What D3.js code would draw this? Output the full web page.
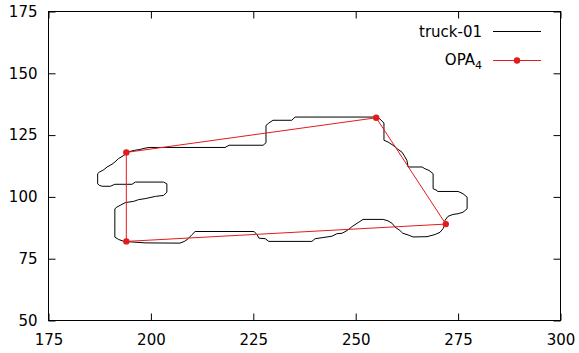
<!DOCTYPE html>
<html>
<head>
<meta charset="utf-8">
<script src="https://cdn.jsdelivr.net/npm/d3@7"></script>
<style>
  html, body { margin: 0; padding: 0; background: #fff; }
  svg { display: block; font-family: "DejaVu Sans", sans-serif; }
</style>
</head>
<body>
<svg id="chart" width="579" height="353"></svg>
<script>
// Axis ticks
const xTicks = [175, 200, 225, 250, 275, 300];
const yTicks = [50, 75, 100, 125, 150, 175];

// Outline of truck-01 (x, y), traced clockwise
const truckX = [193.4, 194.4, 195.9, 197.3, 198.8, 199.8, 218.1, 219.1, 227.4, 228.1,
  228.1, 228.8, 229.8, 234.4, 235.2, 255.4, 256.9, 256.9, 257.9, 259.1,
  260.1, 261.3, 261.8, 262.5, 262.8, 266.2, 266.9, 267.9, 268.9, 268.9,
  269.85, 270.0, 275.0, 276.2, 277.2, 277.2, 276.2, 275.0, 273.75, 272.5,
  271.8, 271.9, 271.3, 270.6, 269.4, 267.4, 264.0, 262.8, 261.5, 260.8,
  259.6, 258.9, 257.9, 256.7, 251.8, 250.6, 249.3, 247.9, 246.7, 245.4,
  244.2, 241.8, 240.1, 239.3, 228.8, 227.9, 226.4, 225.9, 225.2, 210.8,
  210.0, 209.1, 208.3, 207.1, 198.6, 193.4, 192.1, 191.2, 191.2, 191.7,
  192.5, 193.75, 194.6, 195.8, 197.0, 198.6, 201.1, 203.1, 203.9, 203.9,
  203.1, 196.2, 195.4, 191.2, 190.1, 188.1, 187.4, 187.0, 187.0, 187.4,
  188.5, 189.3, 190.5, 191.2, 192.1];
const truckY = [116.8, 118.2, 118.8, 119.2, 119.8, 120.0, 120.0, 120.9, 120.9, 121.9,
  128.9, 129.9, 131.0, 131.0, 132.3, 132.3, 129.9, 122.9, 122.2, 120.9,
  119.5, 118.1, 116.8, 114.8, 112.1, 112.1, 111.4, 110.7, 109.4, 103.3,
  102.6, 102.2, 102.2, 101.3, 99.9, 95.2, 93.8, 93.2, 92.9, 92.1,
  90.5, 88.9, 87.1, 85.7, 84.8, 83.9, 83.8, 84.6, 85.3, 86.4,
  87.8, 89.3, 90.3, 90.9, 90.9, 89.6, 88.2, 86.4, 85.3, 85.1,
  84.1, 83.5, 83.1, 82.0, 82.0, 83.1, 83.3, 84.7, 86.0, 86.0,
  84.7, 83.1, 82.1, 81.3, 81.4, 82.0, 82.8, 83.7, 95.2, 95.9,
  96.6, 97.7, 97.9, 98.2, 98.9, 99.3, 100.2, 100.6, 101.9, 105.3,
  106.0, 106.0, 105.1, 105.1, 104.3, 104.3, 104.7, 105.3, 109.4, 110.0,
  111.0, 112.1, 113.2, 114.1, 115.5];

// OPA_4 quadrilateral vertices
const opaX = [194, 255, 272, 194];
const opaY = [118, 132, 89, 82];

const svg = d3.select("#chart");
const plotLeft = 48.5, plotRight = 560.5, plotTop = 11.5, plotBottom = 320.5;

const x = d3.scaleLinear().domain([175, 300]).range([plotLeft, plotRight]);
const y = d3.scaleLinear().domain([50, 175]).range([plotBottom, plotTop]);

const red = "#e41a1c";

// Axes with inward ticks on all four sides
function styleAxis(g) {
  g.select(".domain").remove();
  g.selectAll(".tick line").attr("stroke", "#000").attr("stroke-width", 1);
  g.selectAll("text").attr("fill", "#000").attr("font-size", 15)
    .attr("font-family", "DejaVu Sans, sans-serif");
}

svg.append("g").attr("transform", `translate(0,${plotBottom})`)
  .call(d3.axisBottom(x).tickValues(xTicks).tickSizeInner(-7).tickSizeOuter(0).tickPadding(14))
  .call(styleAxis);
svg.append("g").attr("transform", `translate(0,${plotTop})`)
  .call(d3.axisTop(x).tickValues(xTicks).tickSizeInner(-7).tickSizeOuter(0).tickFormat(""))
  .call(styleAxis);
svg.append("g").attr("transform", `translate(${plotLeft},0)`)
  .call(d3.axisLeft(y).tickValues(yTicks).tickSizeInner(-7).tickSizeOuter(0).tickPadding(11))
  .call(styleAxis);
svg.append("g").attr("transform", `translate(${plotRight},0)`)
  .call(d3.axisRight(y).tickValues(yTicks).tickSizeInner(-7).tickSizeOuter(0).tickFormat(""))
  .call(styleAxis);

// Plot frame
svg.append("rect")
  .attr("x", plotLeft).attr("y", plotTop)
  .attr("width", plotRight - plotLeft).attr("height", plotBottom - plotTop)
  .attr("fill", "none").attr("stroke", "#000").attr("stroke-width", 1);

const line = d3.line().x(d => x(d[0])).y(d => y(d[1]));

// truck-01 outline
const truckPts = truckX.map((v, i) => [v, truckY[i]]);
truckPts.push(truckPts[0]);
svg.append("path").datum(truckPts)
  .attr("d", line).attr("fill", "none")
  .attr("stroke", "#000").attr("stroke-width", 1);

// OPA_4 polygon with vertex markers
const opaPts = opaX.map((v, i) => [v, opaY[i]]);
svg.append("path").datum([...opaPts, opaPts[0]])
  .attr("d", line).attr("fill", "none")
  .attr("stroke", red).attr("stroke-width", 1);
svg.selectAll("circle.opa").data(opaPts).enter().append("circle")
  .attr("class", "opa")
  .attr("cx", d => x(d[0])).attr("cy", d => y(d[1]))
  .attr("r", 3.2).attr("fill", red);

// Legend
const legend = svg.append("g");
legend.append("text").attr("x", 482).attr("y", 31.7).attr("dy", "0.36em")
  .attr("text-anchor", "end").attr("font-size", 15).attr("fill", "#000")
  .text("truck-01");
legend.append("line").attr("x1", 493).attr("x2", 541).attr("y1", 31.5).attr("y2", 31.5)
  .attr("stroke", "#000").attr("stroke-width", 1);

const opaLabel = legend.append("text").attr("x", 482).attr("y", 60).attr("dy", "0.36em")
  .attr("text-anchor", "end").attr("font-size", 15).attr("fill", "#000");
opaLabel.append("tspan").text("OPA");
opaLabel.append("tspan").attr("font-size", 11).attr("dy", "4").text("4");
legend.append("line").attr("x1", 493).attr("x2", 541).attr("y1", 60.5).attr("y2", 60.5)
  .attr("stroke", red).attr("stroke-width", 1);
legend.append("circle").attr("cx", 517).attr("cy", 60.5).attr("r", 3.2).attr("fill", red);
</script>
</body>
</html>
